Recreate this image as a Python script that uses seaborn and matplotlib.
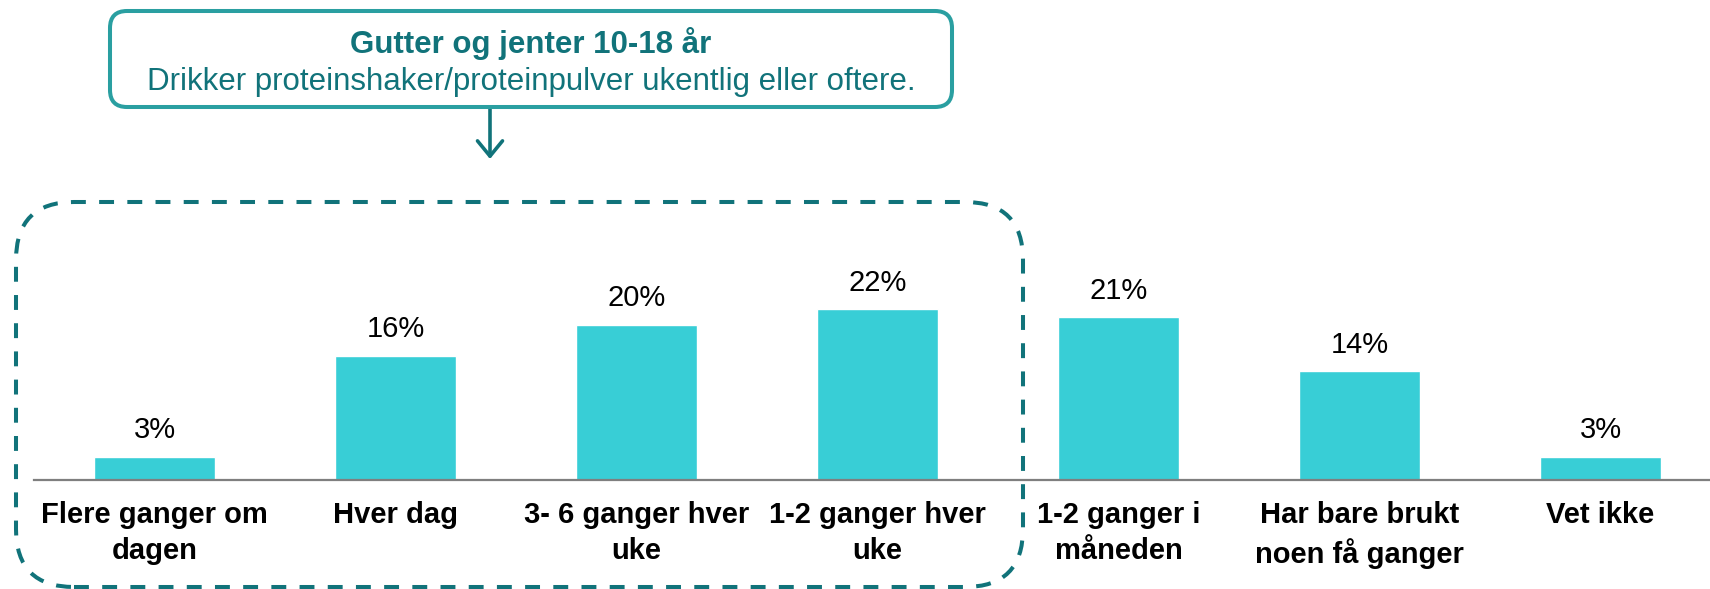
import matplotlib
matplotlib.use("Agg")
import matplotlib.pyplot as plt
import matplotlib.transforms as mtransforms
from matplotlib.patches import FancyBboxPatch, FancyArrowPatch
import seaborn as sns
import pandas as pd

# data
categories = ["Flere ganger om\ndagen", "Hver dag", "3- 6 ganger hver\nuke",
              "1-2 ganger hver\nuke", "1-2 ganger i\nmåneden",
              "Har bare brukt\nnoen få ganger", "Vet ikke"]
values = [3, 16, 20, 22, 21, 14, 3]
title_bold = "Gutter og jenter 10-18 år"
title_text = "Drikker proteinshaker/proteinpulver ukentlig eller oftere."

bar_color = "#38CED6"
teal_dark = "#11737A"
teal_box = "#2A9FA1"

sns.set_style("white")
plt.rcParams["font.family"] = ["Liberation Sans", "DejaVu Sans"]

W, H = 1710, 589
fig = plt.figure(figsize=(W / 100, H / 100), dpi=100)
ax = fig.add_axes([34 / W, 109 / H, (W - 34) / W, 194 / H])

df = pd.DataFrame({"kategori": categories, "andel": values})
sns.barplot(data=df, x="kategori", y="andel", color=bar_color, saturation=1,
            width=0.5, ax=ax)
ax.bar_label(ax.containers[0], labels=[f"{v}%" for v in values],
             padding=9, fontsize=21, color="black")

ax.set_xlim(-0.5, -0.5 + (W - 34) / 241)
ax.set_ylim(0, 25)
ax.set_xlabel("")
ax.set_ylabel("")
ax.set_yticks([])
for s in ["top", "right", "left"]:
    ax.spines[s].set_visible(False)
ax.spines["bottom"].set_color("#7F7F7F")
ax.spines["bottom"].set_linewidth(1.6)
ax.tick_params(axis="x", length=0, pad=15, colors="black")
for lab in ax.get_xticklabels():
    lab.set_fontsize(21)
    lab.set_fontweight("bold")
    lab.set_color("black")
    lab.set_linespacing(1.38)

# pixel transform (origin bottom-left)
px = mtransforms.IdentityTransform()

# dashed rounded frame around the weekly-or-more categories
frame = FancyBboxPatch((16, H - 587), 1023 - 16, 587 - 202,
                       boxstyle="round,pad=0,rounding_size=58",
                       transform=px, fill=False, edgecolor=teal_dark,
                       linewidth=2.9, linestyle=(0, (3.7, 3.3)), clip_on=False)
fig.patches.append(frame)

# annotation box
box = FancyBboxPatch((110, H - 107), 952 - 110, 107 - 11,
                     boxstyle="round,pad=0,rounding_size=17",
                     transform=px, fill=False, edgecolor=teal_box,
                     linewidth=2.9, clip_on=False)
fig.patches.append(box)
fig.text(531 / W, 1 - 44 / H, title_bold, ha="center", va="center",
         fontsize=22.5, fontweight="bold", color=teal_dark)
fig.text(531 / W, 1 - 82 / H, title_text, ha="center", va="center",
         fontsize=22.5, color=teal_dark)

# arrow from box down to the frame
fig.add_artist(FancyArrowPatch(
    (490, H - 107), (490, H - 159), transform=px,
    arrowstyle="->,head_length=11,head_width=9", color=teal_dark,
    linewidth=2.6, shrinkA=0, shrinkB=0))

fig.savefig("out.png", dpi=100)
